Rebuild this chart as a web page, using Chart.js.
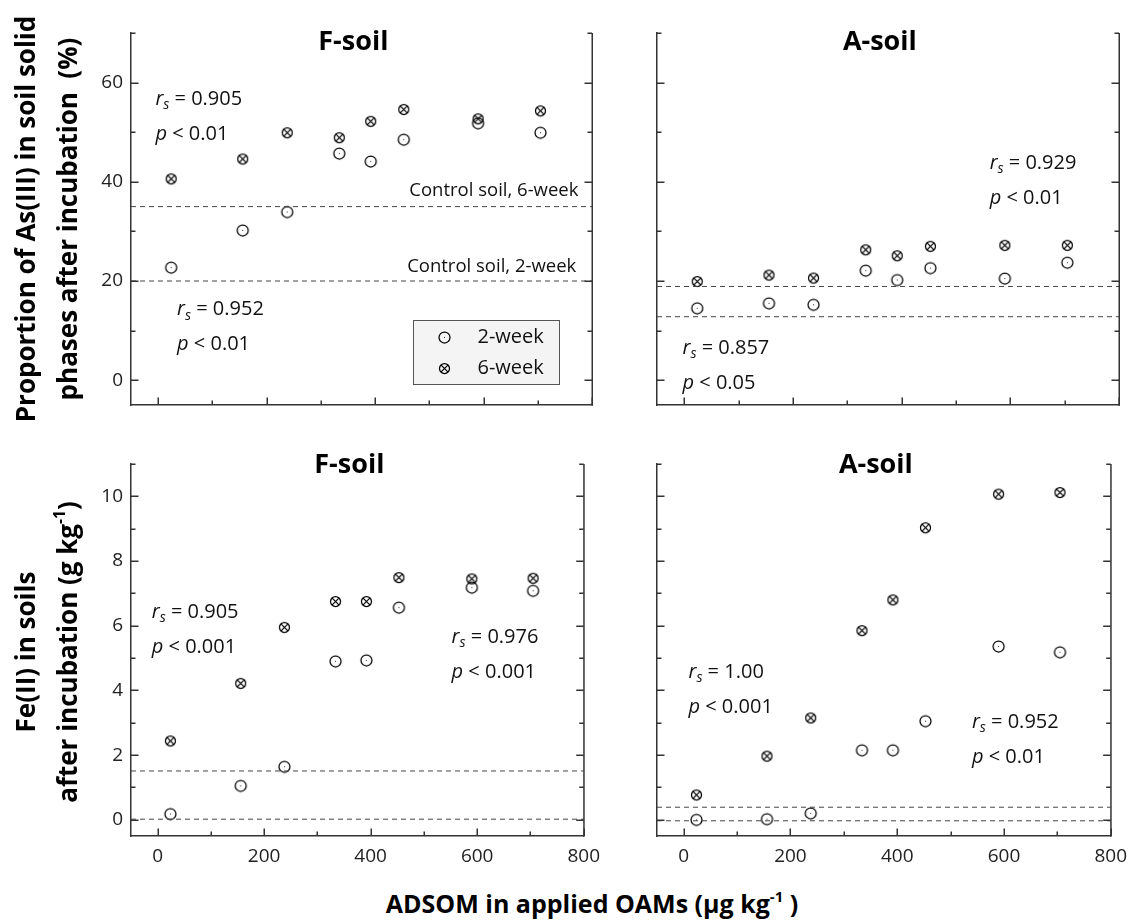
<!DOCTYPE html>
<html>
<head>
<meta charset="utf-8">
<script src="https://cdn.jsdelivr.net/npm/chart.js@4.4.1/dist/chart.umd.min.js"></script>
<style>
  html, body { margin: 0; padding: 0; background: #fff; overflow: hidden; }
  #fig { position: relative; width: 1136px; height: 922px; font-family: "Open Sans", sans-serif; color: #000; }
  #fig canvas { position: absolute; }
  .ytitle {
    position: absolute; font-weight: bold; font-size: 26px; line-height: 42px;
    white-space: pre; text-align: center; transform: translate(-50%, -50%) rotate(-90deg);
  }
  .xtitle { position: absolute; font-weight: bold; font-size: 25px; line-height: 30px; white-space: pre; transform: translateX(-50%); }
  sup { font-size: 0.6em; line-height: 0; vertical-align: 0.75em; }
</style>
</head>
<body>
<div id="fig">
  <canvas id="asF"></canvas>
  <canvas id="asA"></canvas>
  <canvas id="feF"></canvas>
  <canvas id="feA"></canvas>
  <div class="ytitle" style="left:46px; top:219px;">Proportion of As(III) in soil solid
phases after incubation  (%)</div>
  <div class="ytitle" style="left:46px; top:652px;">Fe(II) in soils
after incubation (g kg<sup>-1</sup>)</div>
  <div class="xtitle" style="left:592px; top:888px;">ADSOM in applied OAMs (µg kg<sup>-1</sup> )</div>
</div>
<script>
// ADSOM dose of each treatment (x), shared by all panels
const adsom = [24, 156, 238, 334, 392, 453, 590, 705];

// As(III) proportion in soil solid phases (%)
const asF2wk = [22.7, 30.2, 33.9, 45.7, 44.1, 48.5, 51.8, 49.9];
const asF6wk = [40.6, 44.6, 49.9, 48.9, 52.2, 54.6, 52.7, 54.3];
const asA2wk = [14.5, 15.5, 15.2, 22.1, 20.2, 22.6, 20.5, 23.7];
const asA6wk = [19.9, 21.2, 20.6, 26.3, 25.1, 27.0, 27.2, 27.2];

// Fe(II) in soils (g/kg)
const feF2wk = [0.18, 1.05, 1.64, 4.90, 4.93, 6.56, 7.18, 7.08];
const feF6wk = [2.44, 4.22, 5.95, 6.75, 6.75, 7.49, 7.45, 7.47];
const feA2wk = [0.00, 0.02, 0.20, 2.15, 2.15, 3.05, 5.36, 5.18];
const feA6wk = [0.77, 1.97, 3.15, 5.85, 6.80, 9.03, 10.07, 10.12];

// control soils [2-week, 6-week]
const asControlF = [20, 35];
const asControlA = [12.8, 18.9];
const feControlF = [0.02, 1.51];
const feControlA = [-0.03, 0.39];

// spearman stats [r_s, p] per panel
const statsAsF = [['0.905', '0.01'], ['0.952', '0.01']];
const statsAsA = [['0.929', '0.01'], ['0.857', '0.05']];
const statsFeF = [['0.905', '0.001'], ['0.976', '0.001']];
const statsFeA = [['1.00', '0.001'], ['0.952', '0.01']];

// axes
const xRange = [-50, 800];
const xTicks = [0, 200, 400, 600, 800];
const xMinor = [100, 300, 500, 700];
const yRangeAs = [-5, 70];
const yTicksAs = [0, 20, 40, 60];
const yMinorAs = [10, 30, 50, 70];
const yRangeFe = [-0.5, 11];
const yTicksFe = [0, 2, 4, 6, 8, 10];
const yMinorFe = [1, 3, 5, 7, 9, 11];

const FONT = '"Open Sans", "DejaVu Sans", sans-serif';
const AXIS = '#333';
const PAD_TOP = 25, PAD_RIGHT = 17, Y_W = 60, X_H = 40;

function makeMarker(cross) {
  const c = document.createElement('canvas');
  c.width = c.height = 15;
  const g = c.getContext('2d');
  g.strokeStyle = '#000';
  g.lineWidth = 1.25;
  g.beginPath();
  g.arc(7.5, 7.5, cross ? 5 : 5.5, 0, Math.PI * 2);
  g.stroke();
  if (cross) {
    const d = 3.6;
    g.beginPath();
    g.moveTo(7.5 - d, 7.5 - d); g.lineTo(7.5 + d, 7.5 + d);
    g.moveTo(7.5 + d, 7.5 - d); g.lineTo(7.5 - d, 7.5 + d);
    g.stroke();
  } else {
    g.fillStyle = '#333';
    g.fillRect(7, 7, 1, 1);
  }
  return c;
}
const mark2wk = makeMarker(false);
const mark6wk = makeMarker(true);

function drawStat(ctx, x, y, r, p) {
  ctx.fillStyle = '#111';
  ctx.textAlign = 'left';
  ctx.textBaseline = 'middle';
  ctx.font = `italic 20px ${FONT}`;
  ctx.fillText('r', x, y);
  let w = ctx.measureText('r').width;
  ctx.font = `italic 14px ${FONT}`;
  ctx.fillText('s', x + w, y + 6);
  w += ctx.measureText('s').width;
  ctx.font = `20px ${FONT}`;
  ctx.fillText(' = ' + r, x + w, y);
  y += 35;
  ctx.font = `italic 20px ${FONT}`;
  ctx.fillText('p', x, y);
  w = ctx.measureText('p').width;
  ctx.font = `20px ${FONT}`;
  ctx.fillText(' < ' + p, x + w, y);
}

function segment(ctx, x1, y1, x2, y2) {
  ctx.beginPath();
  ctx.moveTo(x1, y1);
  ctx.lineTo(x2, y2);
  ctx.stroke();
}

const panelDecor = {
  id: 'panelDecor',
  afterDraw(chart) {
    const o = chart.config.options.decor;
    const ctx = chart.ctx;
    const a = chart.chartArea;
    const x = chart.scales.x;
    const y = chart.scales.y;
    ctx.save();
    ctx.setLineDash([]);

    // right border + inward ticks
    ctx.strokeStyle = AXIS;
    ctx.lineWidth = 1.5;
    segment(ctx, a.right + 0.25, a.top, a.right + 0.25, a.bottom + 0.75);
    o.yMajor.concat(o.yMinor).forEach((v, i) => {
      const len = i < o.yMajor.length ? 7.5 : 4.5;
      const py = Math.round(y.getPixelForValue(v)) + 0.25;
      segment(ctx, a.left, py, a.left + len, py);
      segment(ctx, a.right, py, a.right - len, py);
    });
    xTicks.concat(xMinor).forEach((v, i) => {
      const len = i < xTicks.length ? 7.5 : 4.5;
      const px = Math.round(x.getPixelForValue(v)) + 0.25;
      segment(ctx, px, a.bottom, px, a.bottom - len);
    });

    // panel title
    ctx.fillStyle = '#000';
    ctx.font = `bold 27px ${FONT}`;
    ctx.textAlign = 'center';
    ctx.textBaseline = 'alphabetic';
    ctx.fillText(o.title, x.getPixelForValue(360), a.top + o.titleDy);

    // correlation stats
    o.stats.forEach((s, i) => {
      const pos = o.statPos[i];
      drawStat(ctx, x.getPixelForValue(pos[0]), y.getPixelForValue(pos[1]), s[0], s[1]);
    });

    // control labels
    ctx.fillStyle = '#111';
    ctx.font = `18.5px ${FONT}`;
    ctx.textAlign = 'right';
    ctx.textBaseline = 'middle';
    (o.controlText || []).forEach((t) => {
      ctx.fillText(t[0], x.getPixelForValue(t[1]), y.getPixelForValue(t[2]));
    });

    // legend box
    if (o.legend) {
      const bl = Math.round(x.getPixelForValue(o.legend[0])) + 0.5;
      const bt = Math.round(y.getPixelForValue(o.legend[1])) + 0.5;
      ctx.fillStyle = '#f4f4f4';
      ctx.fillRect(bl, bt, 146, 64);
      ctx.strokeStyle = '#555';
      ctx.lineWidth = 1;
      ctx.strokeRect(bl, bt, 146, 64);
      ctx.drawImage(mark2wk, Math.round(bl + 31 - 7.5), Math.round(bt + 17 - 7.5));
      ctx.drawImage(mark6wk, Math.round(bl + 31 - 7.5), Math.round(bt + 48 - 7.5));
      ctx.fillStyle = '#111';
      ctx.font = `20px ${FONT}`;
      ctx.textAlign = 'left';
      ctx.fillText('2-week', bl + 64, bt + 17);
      ctx.fillText('6-week', bl + 64, bt + 48);
    }
    ctx.restore();
  }
};

function markerSet(label, ys, img) {
  return {
    type: 'scatter',
    label,
    data: adsom.map((x, i) => ({ x, y: ys[i] })),
    pointStyle: img,
    pointRadius: 6,
    showLine: false
  };
}

function controlLine(value) {
  return {
    type: 'line',
    data: [{ x: xRange[0], y: value }, { x: xRange[1], y: value }],
    borderColor: '#444',
    borderWidth: 1,
    borderDash: [5, 4],
    pointRadius: 0,
    fill: false
  };
}

function renderPanel(p) {
  const [l, t, r, b] = p.box;
  const canvas = document.getElementById(p.id);
  canvas.width = r - l + Y_W + PAD_RIGHT;
  canvas.height = b - t + PAD_TOP + X_H;
  canvas.style.left = (l - Y_W) + 'px';
  canvas.style.top = (t - PAD_TOP) + 'px';

  new Chart(canvas, {
    type: 'scatter',
    data: {
      datasets: [
        controlLine(p.controls[0]),
        controlLine(p.controls[1]),
        markerSet('2-week', p.series[0], mark2wk),
        markerSet('6-week', p.series[1], mark6wk)
      ]
    },
    options: {
      responsive: false,
      animation: false,
      decor: p,
      layout: { padding: { top: PAD_TOP, right: PAD_RIGHT, left: 0, bottom: 0 } },
      plugins: {
        legend: { display: false },
        tooltip: { enabled: false }
      },
      scales: {
        x: {
          type: 'linear', min: xRange[0], max: xRange[1],
          afterBuildTicks: (s) => { s.ticks = xTicks.map((v) => ({ value: v })); },
          afterFit: (s) => { s.height = X_H; },
          grid: { display: false, drawTicks: false },
          border: { display: true, color: AXIS, width: 1.5 },
          ticks: { display: p.xLabels, padding: 9, maxRotation: 0, autoSkip: false, color: '#222', font: { family: FONT, size: 19 } }
        },
        y: {
          type: 'linear', min: p.yRange[0], max: p.yRange[1],
          afterBuildTicks: (s) => { s.ticks = p.yTicks.map((v) => ({ value: v })); },
          afterFit: (s) => { s.width = Y_W; },
          grid: { display: false, drawTicks: false },
          border: { display: true, color: AXIS, width: 1.5 },
          ticks: { display: p.yLabels, padding: 8, color: '#222', font: { family: FONT, size: 19 } }
        }
      }
    },
    plugins: [panelDecor]
  });
}

const panels = [
  {
    id: 'asF', box: [131, 33, 592, 405], yRange: yRangeAs, yMajor: yTicksAs, yTicks: yTicksAs, yMinor: yMinorAs,
    xLabels: false, yLabels: true, title: 'F-soil', titleDy: 17,
    series: [asF2wk, asF6wk], controls: asControlF,
    stats: statsAsF, statPos: [[-5, 56.6], [35, 14.2]],
    controlText: [['Control soil, 6-week', 775, 38.1], ['Control soil, 2-week', 771, 22.9]],
    legend: [470, 12.1]
  },
  {
    id: 'asA', box: [657, 33, 1119, 405], yRange: yRangeAs, yMajor: yTicksAs, yTicks: yTicksAs, yMinor: yMinorAs,
    xLabels: false, yLabels: false, title: 'A-soil', titleDy: 17,
    series: [asA2wk, asA6wk], controls: asControlA,
    stats: statsAsA, statPos: [[562, 43.8], [-3, 6.4]]
  },
  {
    id: 'feF', box: [131, 464, 592, 836], yRange: yRangeFe, yMajor: yTicksFe, yTicks: yTicksFe, yMinor: yMinorFe,
    xLabels: true, yLabels: true, title: 'F-soil', titleDy: 9,
    series: [feF2wk, feF6wk], controls: feControlF,
    stats: statsFeF, statPos: [[-11, 6.41], [552, 5.64]]
  },
  {
    id: 'feA', box: [657, 464, 1119, 836], yRange: yRangeFe, yMajor: yTicksFe, yTicks: yTicksFe, yMinor: yMinorFe,
    xLabels: true, yLabels: false, title: 'A-soil', titleDy: 9,
    series: [feA2wk, feA6wk], controls: feControlA,
    stats: statsFeA, statPos: [[9, 4.56], [540, 3.02]]
  }
];

panels.forEach(renderPanel);
</script>
</body>
</html>
